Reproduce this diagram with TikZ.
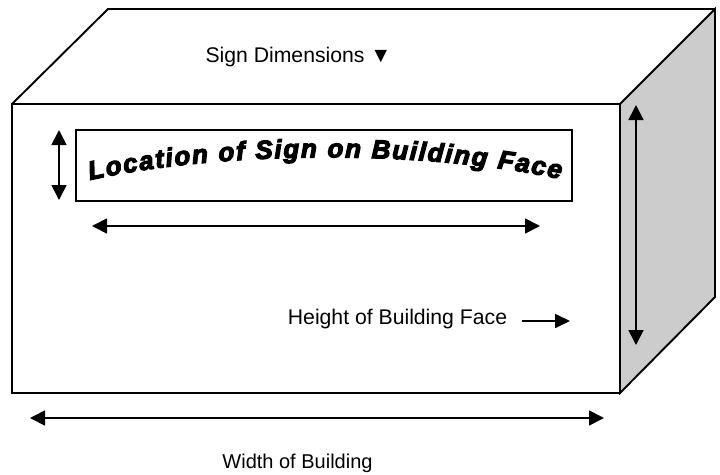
\documentclass[tikz,border=0pt]{standalone}
\usepackage{fontspec}
\setmainfont{Liberation Sans}
\newfontfamily\signfont[FakeBold=4.5]{Liberation Sans Bold Italic}
\usetikzlibrary{arrows.meta,decorations.text}
\tikzset{
  wall/.style={draw=black,line width=1.9pt,line join=miter},
  dimline/.style={draw=black,line width=1.7pt,{Triangle[width=15pt,length=15pt]}-{Triangle[width=15pt,length=15pt]}},
  oneway/.style={draw=black,line width=1.7pt,-{Triangle[width=14pt,length=15pt]}},
  lab/.style={font=\fontsize{20}{24}\selectfont,inner sep=0pt,text=black},
  labwide/.style={lab,font=\fontsize{21.2}{24}\selectfont}
}
\begin{document}
\begin{tikzpicture}[x=1pt,y=-1pt]
\useasboundingbox (0,0) rectangle (720,474);
\fill[white] (0,0) rectangle (720,474);
% building
\coordinate (ftl) at (12,104);
\coordinate (ftr) at (620,104);
\coordinate (fbl) at (12,393);
\coordinate (fbr) at (620,393);
\coordinate (btl) at (108,9);
\coordinate (btr) at (715,9);
\coordinate (bbr) at (715,297);
\filldraw[wall,fill=black!20] (ftr) -- (btr) -- (bbr) -- (fbr) -- cycle;
\draw[wall] (ftl) -- (btl) -- (btr);
\draw[wall] (ftl) rectangle (fbr);
% sign
\node[wall,inner sep=0pt,anchor=north west,minimum width=496pt,minimum height=71pt] (sign) at (75,129) {};
\path[decorate,decoration={text along path,text align={fit to path},
  text={|\signfont\fontsize{26}{30}\selectfont|Location of  Sign on Building Face}}]
  (90,180) .. controls (225,150) and (425,150) .. (560,179);
% labels
\node[labwide,anchor=center] (dim) at (298.5,57.5) {Sign Dimensions ▼};
\node[labwide,anchor=center] (hgt) at (397.5,319.5) {Height of Building Face};
\node[lab,anchor=center] (wid) at (297.5,463) {Width of Building};
% arrows
\coordinate (a1) at (59,130); \coordinate (a2) at (59,200);
\coordinate (b1) at (92,226); \coordinate (b2) at (540,226);
\coordinate (c1) at (636,105); \coordinate (c2) at (636,345);
\coordinate (d1) at (30,418); \coordinate (d2) at (604,418);
\coordinate (e1) at (522,321); \coordinate (e2) at (570,321);
\draw[dimline] (a1) -- (a2);
\draw[dimline] (b1) -- (b2);
\draw[dimline] (c1) -- (c2);
\draw[dimline] (d1) -- (d2);
\draw[oneway] (e1) -- (e2);
\end{tikzpicture}
\end{document}
